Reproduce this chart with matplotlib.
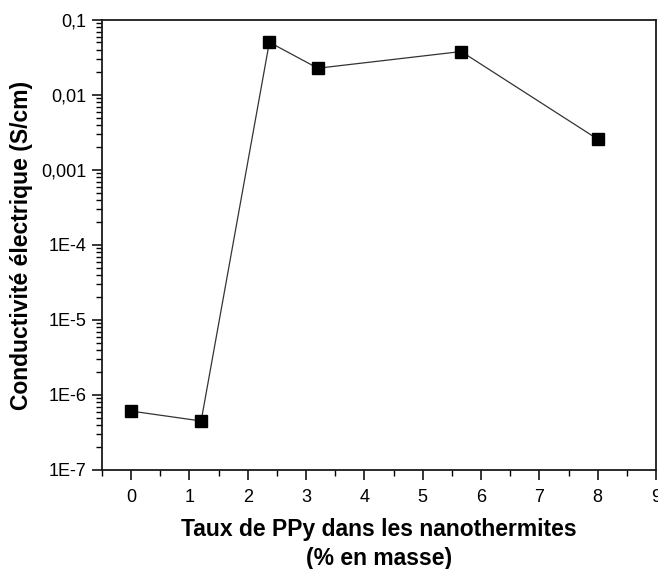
import matplotlib
matplotlib.use("Agg")
import matplotlib.pyplot as plt
from matplotlib.ticker import FixedLocator, FixedFormatter, LogLocator, MultipleLocator, NullFormatter

# PPy content (% mass) and electrical conductivity (S/cm)
taux_ppy = [0.0, 1.2, 2.37, 3.2, 5.66, 8.0]
conductivite = [6.1e-7, 4.5e-7, 0.0504, 0.0227, 0.0379, 0.00257]

y_ticks = [1e-7, 1e-6, 1e-5, 1e-4, 1e-3, 1e-2, 1e-1]
y_ticklabels = ["1E-7", "1E-6", "1E-5", "1E-4", "0,001", "0,01", "0,1"]

plt.rcParams["font.family"] = ["Liberation Sans", "DejaVu Sans"]

fig = plt.figure(figsize=(6.58, 5.69), dpi=100)
ax = fig.add_axes([0.155, 0.174, 0.842, 0.791])

ax.plot(taux_ppy, conductivite, color="#333333", lw=0.9,
        marker="s", ms=8.5, mfc="black", mec="black", zorder=3)

ax.set_yscale("log")
ax.set_ylim(1e-7, 0.1)
ax.set_xlim(-0.5, 9)

ax.yaxis.set_major_locator(FixedLocator(y_ticks))
ax.yaxis.set_major_formatter(FixedFormatter(y_ticklabels))
ax.yaxis.set_minor_locator(LogLocator(base=10, subs=range(2, 10), numticks=20))
ax.yaxis.set_minor_formatter(NullFormatter())

ax.xaxis.set_major_locator(MultipleLocator(1))
ax.xaxis.set_minor_locator(MultipleLocator(0.5))

for side in ["left", "bottom", "top", "right"]:
    ax.spines[side].set_linewidth(1.3)
    ax.spines[side].set_color("#1a1a1a")

ax.tick_params(which="major", direction="out", length=7, width=1.1,
               labelsize=13, pad=4, top=False, right=False)
ax.tick_params(which="minor", direction="out", length=4, width=1.0,
               top=False, right=False)
ax.tick_params(axis="x", which="major", pad=7)

ax.set_xlabel("Taux de PPy dans les nanothermites\n(% en masse)",
              fontsize=16.5, fontweight="bold", labelpad=8, linespacing=1.35)
ax.set_ylabel("Conductivité électrique (S/cm)",
              fontsize=16.5, fontweight="bold", labelpad=6)

fig.savefig("out.png", dpi=100)
